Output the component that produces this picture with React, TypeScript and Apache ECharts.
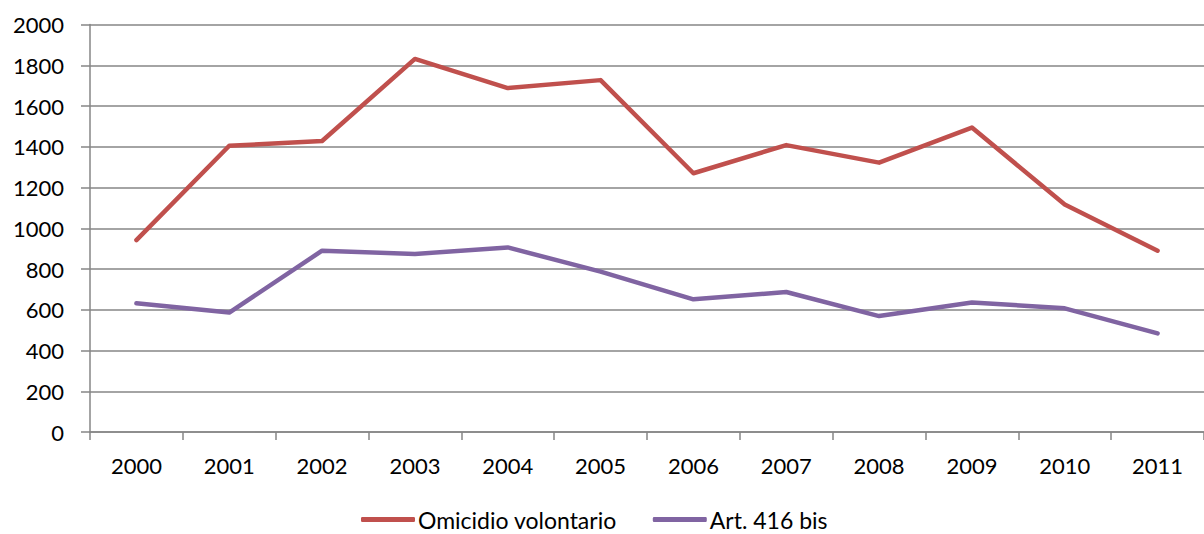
import React, { useEffect, useRef } from "react";
import * as echarts from "echarts";

const years = ["2000", "2001", "2002", "2003", "2004", "2005", "2006", "2007", "2008", "2009", "2010", "2011"];
const omicidio = [942, 1405, 1428, 1831, 1688, 1727, 1270, 1408, 1322, 1494, 1117, 890];
const art416 = [632, 586, 890, 874, 906, 787, 651, 687, 569, 636, 607, 484];

const FONT = "Lato, 'Open Sans', sans-serif";
const GRAY = "#868686";

export default function App() {
  const ref = useRef<HTMLDivElement>(null);
  useEffect(() => {
    if (!ref.current) return;
    const chart = echarts.init(ref.current, null, { renderer: "svg" });
    chart.setOption({
      animation: false,
      backgroundColor: "#ffffff",
      grid: { left: 90, top: 24.5, width: 1120, bottom: 102, containLabel: false },
      legend: {
        top: 503,
        left: 356,
        itemWidth: 54,
        itemHeight: 5,
        itemGap: 36,
        icon: "roundRect",
        textStyle: { fontFamily: FONT, fontSize: 23, color: "#000", padding: [0, 0, 0, -2] },
        data: ["Omicidio volontario", "Art. 416 bis"],
      },
      xAxis: {
        type: "category",
        data: years,
        boundaryGap: true,
        axisLine: { show: true, lineStyle: { color: GRAY, width: 1.5 } },
        axisTick: { show: true, length: 8, lineStyle: { color: GRAY, width: 1.5 } },
        axisLabel: { fontFamily: FONT, fontSize: 22, color: "#000", margin: 22 },
        splitLine: { show: false },
      },
      yAxis: {
        type: "value",
        min: 0,
        max: 2000,
        interval: 200,
        axisLine: { show: true, lineStyle: { color: GRAY, width: 1.5 } },
        axisTick: { show: true, length: 9, lineStyle: { color: GRAY, width: 1.5 } },
        axisLabel: {
          fontFamily: FONT,
          fontSize: 22,
          color: "#000",
          margin: 26,
          formatter: (v: number) => String(v),
        },
        splitLine: { show: true, lineStyle: { color: GRAY, width: 1.5 } },
      },
      series: [
        {
          name: "Omicidio volontario",
          type: "line",
          data: omicidio,
          symbol: "none",
          color: "#C0504D",
          lineStyle: { width: 4.5, color: "#C0504D", cap: "round", join: "round" },
        },
        {
          name: "Art. 416 bis",
          type: "line",
          data: art416,
          symbol: "none",
          color: "#8064A2",
          lineStyle: { width: 4.5, color: "#8064A2", cap: "round", join: "round" },
        },
      ],
    });
    return () => chart.dispose();
  }, []);
  return (
    <div
      ref={ref}
      style={{ position: "fixed", left: 0, top: 0, width: 1204, height: 534, background: "#fff" }}
    />
  );
}
